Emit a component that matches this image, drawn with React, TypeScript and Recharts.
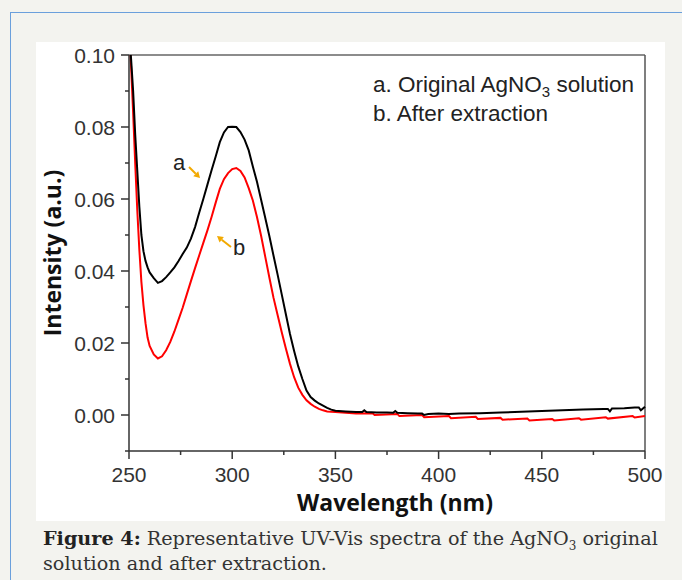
import { Line, LineChart, ReferenceLine, XAxis, YAxis } from 'recharts';

const X_MIN = 250;
const X_MAX = 500;
const Y_MIN = -0.01;
const Y_MAX = 0.1;

const X_TICKS = [250, 275, 300, 325, 350, 375, 400, 425, 450, 475, 500];
const X_LABELED = [250, 300, 350, 400, 450, 500];
const Y_TICKS = [-0.01, 0, 0.01, 0.02, 0.03, 0.04, 0.05, 0.06, 0.07, 0.08, 0.09, 0.1];
const Y_LABELED = [0, 0.02, 0.04, 0.06, 0.08, 0.1];

// a. original AgNO3 solution
const waveA = [
  250, 251, 252, 253, 254, 255, 256, 257, 258, 259, 260, 262, 264, 266, 268, 270, 272, 274, 276, 278,
  280, 282, 284, 286, 288, 290, 292, 294, 296, 298, 300, 302, 304, 306, 308, 310, 312, 314, 316, 318,
  320, 322, 324, 326, 328, 330, 332, 334, 336, 338, 340, 342, 344, 346, 348, 350, 355, 360, 363, 364,
  365, 370, 375, 378, 379, 380, 385, 390, 392, 393, 395, 400, 405, 410, 420, 430, 440, 450, 460, 470,
  480, 482, 483, 484, 490, 495, 497, 498, 500,
];
const intensityA = [
  0.106, 0.099, 0.09, 0.078, 0.068, 0.058, 0.05, 0.0455, 0.0428, 0.041, 0.0396, 0.038, 0.0367, 0.0372,
  0.0383, 0.0396, 0.041, 0.0428, 0.0447, 0.0465, 0.049, 0.0522, 0.0562, 0.06, 0.064, 0.068, 0.0718,
  0.0758, 0.0785, 0.08, 0.0801, 0.08, 0.0786, 0.0765, 0.0735, 0.069, 0.0648, 0.0598, 0.0548, 0.0497,
  0.0443, 0.039, 0.0335, 0.028, 0.0225, 0.0178, 0.0135, 0.01, 0.0068, 0.005, 0.004, 0.0032, 0.0026,
  0.002, 0.0015, 0.0012, 0.001, 0.0008, 0.0008, 0.0013, 0.0008, 0.0007, 0.0007, 0.0006, 0.0011, 0.0006,
  0.0005, 0.0004, 0.0004, 0.0, 0.0003, 0.0004, 0.0003, 0.0004, 0.0005, 0.0007, 0.0009, 0.0011, 0.0013,
  0.0015, 0.0017, 0.0017, 0.001, 0.0018, 0.0019, 0.0021, 0.0021, 0.0013, 0.0023,
];

// b. after extraction
const waveB = [
  250, 251, 252, 253, 254, 255, 256, 257, 258, 259, 260, 262, 264, 266, 268, 270, 272, 274, 276, 278,
  280, 282, 284, 286, 288, 290, 292, 294, 296, 298, 300, 302, 304, 306, 308, 310, 312, 314, 316, 318,
  320, 322, 324, 326, 328, 330, 332, 334, 336, 338, 340, 342, 344, 346, 350, 355, 360, 368, 369, 380,
  381, 392, 393, 405, 406, 418, 419, 430, 431, 443, 444, 455, 456, 468, 469, 481, 482, 494, 495, 500,
];
const intensityB = [
  0.106, 0.097, 0.084, 0.07, 0.057, 0.046, 0.037, 0.0305, 0.0255, 0.0215, 0.0192, 0.0168, 0.0157, 0.0163,
  0.018, 0.0203, 0.0232, 0.0265, 0.0298, 0.0335, 0.0372, 0.0408, 0.0443, 0.0478, 0.0513, 0.055, 0.059,
  0.0628, 0.0655, 0.0672, 0.0683, 0.0686, 0.0678, 0.066, 0.063, 0.0596, 0.055, 0.0498, 0.044, 0.0382,
  0.0326, 0.0278, 0.023, 0.0185, 0.0142, 0.0105, 0.0076, 0.0056, 0.0041, 0.0031, 0.0023, 0.0017,
  0.0013, 0.001, 0.0008, 0.0006, 0.0004, 0.0005, 0.0, 0.0003, -0.0003, 0.0, -0.0006, -0.0003, -0.0009,
  -0.0005, -0.0011, -0.0008, -0.0013, -0.001, -0.0015, -0.0011, -0.0015, -0.0009, -0.0013, -0.0006,
  -0.001, -0.0003, -0.0007, -0.0003,
];

const seriesA = waveA.map((x, i) => ({ x, y: intensityA[i] }));
const seriesB = waveB.map((x, i) => ({ x, y: intensityB[i] }));

const AXIS = '#333';
const TICK_FONT = { fontFamily: '"Liberation Sans", Arial, sans-serif', fontSize: 21, fill: '#333' };
const TITLE_FONT = { fontFamily: '"Open Sans", sans-serif', fontSize: 23, fontWeight: 700, fill: '#111' };
const ORANGE = '#f2a900';

const hasTick = (list: number[], v: number) => list.some((t) => Math.abs(t - v) < 1e-9);

function XTick({ x, y, payload }: any) {
  const major = hasTick(X_LABELED, payload.value);
  return (
    <g>
      <line x1={x} x2={x} y1={y} y2={y + (major ? 8 : 4)} stroke={AXIS} strokeWidth={1.5} />
      {major && (
        <text x={x} y={y + 31} textAnchor="middle" style={TICK_FONT}>
          {payload.value}
        </text>
      )}
    </g>
  );
}

function YTick({ x, y, payload }: any) {
  const major = hasTick(Y_LABELED, payload.value);
  return (
    <g>
      <line x1={x - (major ? 8 : 4)} x2={x} y1={y} y2={y} stroke={AXIS} strokeWidth={1.5} />
      {major && (
        <text x={x - 14} y={y + 7.5} textAnchor="end" style={TICK_FONT}>
          {Number(payload.value).toFixed(2)}
        </text>
      )}
    </g>
  );
}

function Arrow({ x1, y1, x2, y2 }: { x1: number; y1: number; x2: number; y2: number }) {
  const a = Math.atan2(y2 - y1, x2 - x1);
  const h = 6;
  const w = 3.5;
  const bx = x2 - h * Math.cos(a);
  const by = y2 - h * Math.sin(a);
  const px = -Math.sin(a) * w;
  const py = Math.cos(a) * w;
  return (
    <g>
      <line x1={x1} y1={y1} x2={bx} y2={by} stroke={ORANGE} strokeWidth={2} />
      <polygon points={`${x2},${y2} ${bx + px},${by + py} ${bx - px},${by - py}`} fill={ORANGE} />
    </g>
  );
}

export default function App() {
  return (
    <div
      style={{
        position: 'fixed',
        left: 0,
        top: 0,
        width: 682,
        height: 580,
        background: '#f3f3ef',
        overflow: 'hidden',
      }}
    >
      <div
        style={{
          position: 'absolute',
          left: 10,
          top: 12,
          width: 700,
          height: 600,
          borderLeft: '1px solid #6a9fdc',
          borderTop: '1px solid #6a9fdc',
        }}
      />
      <div style={{ position: 'absolute', left: 36, top: 42, width: 629, height: 479, background: '#fff' }}>
        <LineChart width={629} height={479} margin={{ top: 13, right: 20, left: 0, bottom: 0 }}>
          <XAxis
            dataKey="x"
            type="number"
            domain={[X_MIN, X_MAX]}
            ticks={X_TICKS}
            interval={0}
            height={70}
            tickSize={0}
            tickMargin={0}
            tickLine={false}
            tick={<XTick />}
            axisLine={{ stroke: AXIS, strokeWidth: 1.5 }}
            label={{ value: 'Wavelength (nm)', position: 'insideBottom', offset: 10, dx: 8, style: TITLE_FONT }}
          />
          <YAxis
            dataKey="y"
            type="number"
            domain={[Y_MIN, Y_MAX]}
            allowDataOverflow
            ticks={Y_TICKS}
            interval={0}
            width={93}
            tickSize={0}
            tickMargin={0}
            tickLine={false}
            tick={<YTick />}
            axisLine={{ stroke: AXIS, strokeWidth: 1.5 }}
            label={{
              value: 'Intensity (a.u.)',
              angle: -90,
              position: 'insideLeft',
              offset: 17,
              textAnchor: 'middle',
              style: { ...TITLE_FONT, textAnchor: 'middle' },
            }}
          />
          <ReferenceLine y={Y_MAX} stroke="#666" strokeWidth={1.5} />
          <ReferenceLine x={X_MAX} stroke="#555" strokeWidth={1.5} />
          <Line
            data={seriesB}
            dataKey="y"
            type="linear"
            stroke="#ff0000"
            strokeWidth={2}
            dot={false}
            isAnimationActive={false}
          />
          <Line
            data={seriesA}
            dataKey="y"
            type="linear"
            stroke="#000"
            strokeWidth={2}
            dot={false}
            isAnimationActive={false}
          />
        </LineChart>
      </div>
      <svg style={{ position: 'absolute', left: 0, top: 0 }} width={682} height={580}>
        <text x={373} y={92} style={{ ...TICK_FONT, fontSize: 22.5, fill: '#222' }}>
          a. Original AgNO
          <tspan fontSize={15} dy={5}>
            3
          </tspan>
          <tspan dy={-5}> solution</tspan>
        </text>
        <text x={373} y={121} style={{ ...TICK_FONT, fontSize: 22.5, fill: '#222' }}>
          b. After extraction
        </text>
        <text x={173} y={170} style={{ ...TICK_FONT, fontSize: 22, fill: '#222' }}>
          a
        </text>
        <Arrow x1={189} y1={167} x2={200} y2={178} />
        <text x={233} y={255} style={{ ...TICK_FONT, fontSize: 22, fill: '#222' }}>
          b
        </text>
        <Arrow x1={231} y1={247} x2={217} y2={236} />
      </svg>
      <div
        style={{
          position: 'absolute',
          left: 43,
          top: 526,
          fontFamily: '"DejaVu Serif", serif',
          fontSize: 19.2,
          lineHeight: '25px',
          color: '#333',
          whiteSpace: 'nowrap',
        }}
      >
        <b style={{ color: '#222' }}>Figure 4:</b> Representative UV-Vis spectra of the AgNO
        <span style={{ fontSize: 12, lineHeight: 0, position: 'relative', top: 5 }}>3</span> original
        <br />
        solution and after extraction.
      </div>
    </div>
  );
}
